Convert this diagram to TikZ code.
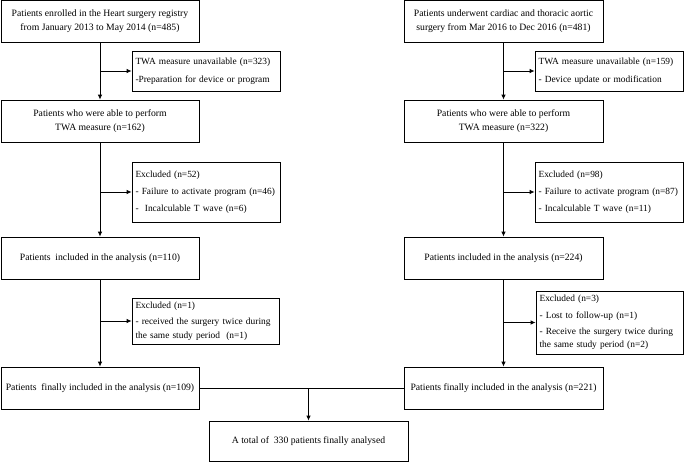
\documentclass[tikz,border=0pt]{standalone}
\usepackage{fontspec}
\setmainfont{Liberation Serif}
\usetikzlibrary{arrows.meta}
\tikzset{
  box/.style={draw, line width=0.8pt, inner sep=0pt, align=center, font=\fontsize{9.7}{13.3}\selectfont},
  sidebox/.style={draw, line width=0.8pt, inner xsep=3.5pt, inner ysep=0pt, align=left, font=\fontsize{9.4}{13.3}\selectfont},
  arr/.style={-{Latex[length=5pt,width=4.5pt]}, line width=0.8pt},
  ln/.style={line width=0.8pt}
}
\begin{document}
\begin{tikzpicture}[x=1pt,y=-1pt]
\useasboundingbox (0,0) rectangle (685,463);
% left column
\node[box, minimum width=198pt, minimum height=41.5pt] (L1) at (100,21.25)
  {Patients enrolled in the Heart surgery registry\\from January 2013 to May 2014 (n=485)};
\node[sidebox, text width=141pt, minimum height=40pt] (L1b) at (206,71)
  {TWA measure unavailable (n=323)\\[4.5pt]-Preparation for device or program};
\node[box, minimum width=198pt, minimum height=42pt] (L2) at (100,121)
  {Patients who were able to perform\\TWA measure (n=162)};
\node[sidebox, text width=141pt, minimum height=60pt] (L2b) at (206,192)
  {Excluded (n=52)\\[3.7pt]- Failure to activate program (n=46)\\[3.7pt]-\ \ Incalculable T wave (n=6)};
\node[box, minimum width=198pt, minimum height=42pt] (L3) at (100,258)
  {Patients\ \ included in the analysis (n=110)};
\node[sidebox, text width=140pt, minimum height=46pt] (L3b) at (205.5,321)
  {Excluded (n=1)\\[3pt]\makebox[140pt][s]{- received the surgery twice during}\\the same study period\ \ (n=1)};
\node[box, minimum width=198pt, minimum height=42pt] (L4) at (100,388)
  {Patients\ \ finally included in the analysis (n=109)};
% right column
\node[box, minimum width=199pt, minimum height=41.5pt] (R1) at (503.5,21.25)
  {Patients underwent cardiac and thoracic aortic\\surgery from Mar 2016 to Dec 2016 (n=481)};
\node[sidebox, text width=141pt, minimum height=40pt] (R1b) at (609,71)
  {TWA measure unavailable (n=159)\\[4.5pt]- Device update or modification};
\node[box, minimum width=199pt, minimum height=42pt] (R2) at (503.5,121)
  {Patients who were able to perform\\TWA measure (n=322)};
\node[sidebox, text width=141pt, minimum height=60pt] (R2b) at (609,192)
  {Excluded (n=98)\\[3.7pt]- Failure to activate program (n=87)\\[3.7pt]- Incalculable T wave (n=11)};
\node[box, minimum width=199pt, minimum height=42pt] (R3) at (503.5,258)
  {Patients included in the analysis (n=224)};
\node[sidebox, text width=140pt, minimum height=63pt] (R3b) at (609.5,322.5)
  {Excluded (n=3)\\[3pt]- Lost to follow-up (n=1)\\[3pt]\makebox[140pt][s]{- Receive the surgery twice during}\\the same study period (n=2)};
\node[box, minimum width=199pt, minimum height=42pt] (R4) at (503.5,388)
  {Patients finally included in the analysis (n=221)};
% final
\node[box, minimum width=199pt, minimum height=40pt] (F) at (308.5,441)
  {A total of\ \ 330 patients finally analysed};
% connectors left
\draw[arr] (L1.south) -- (L2.north);
\draw[arr] (L1.south |- L1b.west) -- (L1b.west);
\draw[arr] (L2.south) -- (L3.north);
\draw[arr] (L2.south |- L2b.west) -- (L2b.west);
\draw[arr] (L3.south) -- (L4.north);
\draw[arr] (L3.south |- L3b.west) -- (L3b.west);
% connectors right
\draw[arr] (R1.south) -- (R2.north);
\draw[arr] (R1.south |- R1b.west) -- (R1b.west);
\draw[arr] (R2.south) -- (R3.north);
\draw[arr] (R2.south |- R2b.west) -- (R2b.west);
\draw[arr] (R3.south) -- (R4.north);
\draw[arr] (R3.south |- R3b.west) -- (R3b.west);
% merge
\draw[ln] (L4.east) -- (R4.west);
\draw[arr] (L4.east -| F.north) -- (F.north);
\end{tikzpicture}
\end{document}
